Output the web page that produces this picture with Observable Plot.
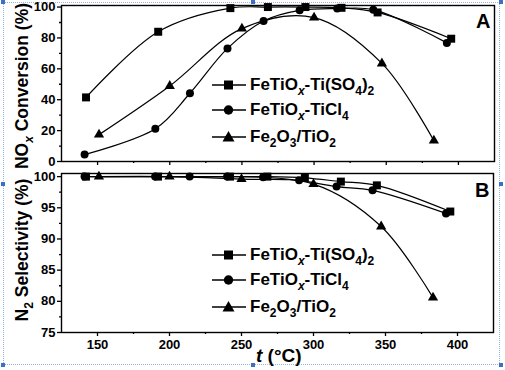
<!DOCTYPE html>
<html>
<head>
<meta charset="utf-8">
<script src="https://cdn.jsdelivr.net/npm/d3@7"></script>
<script src="https://cdn.jsdelivr.net/npm/@observablehq/plot@0.6"></script>
<style>
  body { margin: 0; background: #fff; }
  #wrap { position: relative; width: 505px; height: 370px; overflow: hidden; background: #fff;
          font-family: "Liberation Sans", Arial, sans-serif; font-weight: bold; color: #000; }
  .panel { position: absolute; left: 0; }
  .ylab { position: absolute; font-size: 17.5px; white-space: nowrap; line-height: 20px;
          transform: translate(-50%, -50%) rotate(-90deg); }
  .ylab sub { font-size: 12px; top: 5px; }
  .xlab { position: absolute; font-size: 19px; white-space: nowrap; line-height: 20px; }
  sub { font-size: 12px; position: relative; top: 5px; vertical-align: baseline; line-height: 0; }
  .leg { position: absolute; left: 211px; }
  .row { position: absolute; left: 0; height: 20px; display: flex; align-items: center;
         font-size: 17px; white-space: nowrap; line-height: 20px; }
  .row svg { margin-right: 3px; }
  .sel { position: absolute; left: 3px; top: 2px; width: 497px; height: 363px;
         border: 1px dotted #8fb8ea; box-sizing: border-box; }
  .h { position: absolute; width: 4px; height: 4px; background: #3d6fc6; }
</style>
</head>
<body>
<div id="wrap">
  <div class="sel"></div>
  <div id="pa" class="panel" style="top:0px"></div>
  <div id="pb" class="panel" style="top:170px"></div>
  <div class="ylab" style="left:22px; top:86px">NO<sub><i>x</i></sub> Conversion (%)</div>
  <div class="ylab" style="left:22px; top:250px">N<sub>2</sub> Selectivity (%)</div>
  <div class="xlab" style="left:256px; top:346px"><i>t</i> (°C)</div>
  <div id="legA" class="leg" style="top:75px"></div>
  <div id="legB" class="leg" style="top:245px"></div>
</div>
<script>
// ---- data ----
const seriesNames = ["FeTiOx-Ti(SO4)2", "FeTiOx-TiCl4", "Fe2O3/TiO2"];
const seriesLabels = [
  'FeTiO<sub><i>x</i></sub>-Ti(SO<sub>4</sub>)<sub>2</sub>',
  'FeTiO<sub><i>x</i></sub>-TiCl<sub>4</sub>',
  'Fe<sub>2</sub>O<sub>3</sub>/TiO<sub>2</sub>'
];
const seriesSymbols = ["square", "circle", "triangle"];

const tempSO4 = [142, 192, 242, 268, 294, 319, 344, 395];
const convSO4 = [41.5, 84, 99.3, 100, 100, 99.5, 96.5, 79.5];
const selSO4  = [100, 100, 100, 100, 99.8, 99.2, 98.6, 94.4];

const tempCl4 = [141, 190, 214, 240, 265, 290, 316, 341, 392];
const convCl4 = [4.5, 21.2, 44.2, 73.2, 91, 97.9, 99, 98.3, 76.8];
const selCl4  = [100, 100, 100, 100, 99.9, 99.4, 98.4, 97.8, 94.1];

const tempFe = [151, 200, 250, 300, 347, 383];
const convFe = [17.4, 48.9, 86, 93.2, 63.5, 13.5];
const selFe  = [100, 100, 99.6, 98.8, 92.0, 80.6];

const xTicks = [150, 200, 250, 300, 350, 400];
const xMinor = [175, 225, 275, 325, 375];
const yTicksA = [0, 20, 40, 60, 80, 100];
const yMinorA = [10, 30, 50, 70, 90];
const yTicksB = [75, 80, 85, 90, 95, 100];
const yMinorB = [77.5, 82.5, 87.5, 92.5, 97.5];

// ---- build tidy tables ----
function tidy(name, xs, ys) { return xs.map((t, i) => ({series: name, t, v: ys[i]})); }
const convData = [tidy(seriesNames[0], tempSO4, convSO4), tidy(seriesNames[1], tempCl4, convCl4), tidy(seriesNames[2], tempFe, convFe)];
const selData  = [tidy(seriesNames[0], tempSO4, selSO4),  tidy(seriesNames[1], tempCl4, selCl4),  tidy(seriesNames[2], tempFe, selFe)];

const symR = {square: 4.5, circle: 4, triangle: 3.8};
const style = {fontFamily: '"Liberation Sans", Arial, sans-serif', fontSize: "13px", fontWeight: "bold",
               background: "transparent", overflow: "visible", color: "#000"};

function seriesMarks(sets) {
  const m = [];
  sets.forEach((d) => {
    m.push(Plot.line(d, {x: "t", y: "v", curve: "catmull-rom", stroke: "#000", strokeWidth: 1.2}));
  });
  sets.forEach((d, i) => {
    const s = seriesSymbols[i];
    m.push(Plot.dot(d, {x: "t", y: "v", symbol: () => s, fill: "#000", stroke: "none", r: symR[s]}));
  });
  return m;
}

function panel(opts) {
  return Plot.plot({
    width: 505, height: opts.height,
    marginLeft: 61, marginRight: opts.mr, marginTop: opts.mt, marginBottom: opts.mb,
    x: {domain: [125, 425]},
    y: {domain: opts.ydomain},
    symbol: {domain: seriesSymbols, range: seriesSymbols},
    style,
    marks: [
      Plot.frame({stroke: "#000", strokeWidth: 1.4}),
      Plot.axisY(opts.yTicks, {tickSize: 4, tickPadding: 2, label: null, strokeWidth: 1.3, fontSize: 13}),
      Plot.axisY(opts.yMinor, {tickSize: 2, tickFormat: () => "", label: null, strokeWidth: 1.3}),
      Plot.axisX(xTicks, {tickSize: 4, tickPadding: 3, label: null, strokeWidth: 1.3,
                          tickFormat: opts.xLabels ? d => String(d) : () => ""}),
      Plot.axisX(xMinor, {tickSize: 2, tickFormat: () => "", label: null, strokeWidth: 1.3}),
      ...seriesMarks(opts.data),
      Plot.text([opts.letter], {frameAnchor: "top-right", dx: -4, dy: opts.ldy, fontSize: 20, fontWeight: "bold", fill: "#000"})
    ]
  });
}

document.getElementById("pa").append(panel({
  height: 170, mr: 11, mt: 5, mb: 9, ydomain: [0, 101], yTicks: yTicksA, yMinor: yMinorA,
  xLabels: false, data: convData, letter: "A", ldy: 8
}));
document.getElementById("pb").append(panel({
  height: 200, mr: 12, mt: 3, mb: 38, ydomain: [75, 100.5], yTicks: yTicksB, yMinor: yMinorB,
  xLabels: true, data: selData, letter: "B", ldy: 9
}));

// ---- legends ----
function swatch(sym) {
  let shape;
  if (sym === "square") shape = '<rect x="13" y="5.5" width="9" height="9" fill="#000"/>';
  else if (sym === "circle") shape = '<circle cx="17.5" cy="10" r="4.7" fill="#000"/>';
  else shape = '<path d="M17.5,4 L23.5,14.5 L11.5,14.5 Z" fill="#000"/>';
  return '<svg width="36" height="20"><line x1="1" y1="10" x2="35" y2="10" stroke="#000" stroke-width="1.3"/>' + shape + '</svg>';
}
const rowOffsets = [0, 25, 51.5];
for (const id of ["legA", "legB"]) {
  const el = document.getElementById(id);
  el.innerHTML = seriesSymbols.map((s, i) =>
    `<div class="row" style="top:${rowOffsets[i]}px">${swatch(s)}<span>${seriesLabels[i]}</span></div>`).join("");
}

// ---- selection handles ----
const wrap = document.getElementById("wrap");
for (const [hx, hy] of [[1,0],[251,0],[499,0],[1,182],[499,182],[1,363],[251,363],[499,363]]) {
  const h = document.createElement("div");
  h.className = "h"; h.style.left = hx + "px"; h.style.top = hy + "px";
  wrap.append(h);
}
</script>
</body>
</html>
